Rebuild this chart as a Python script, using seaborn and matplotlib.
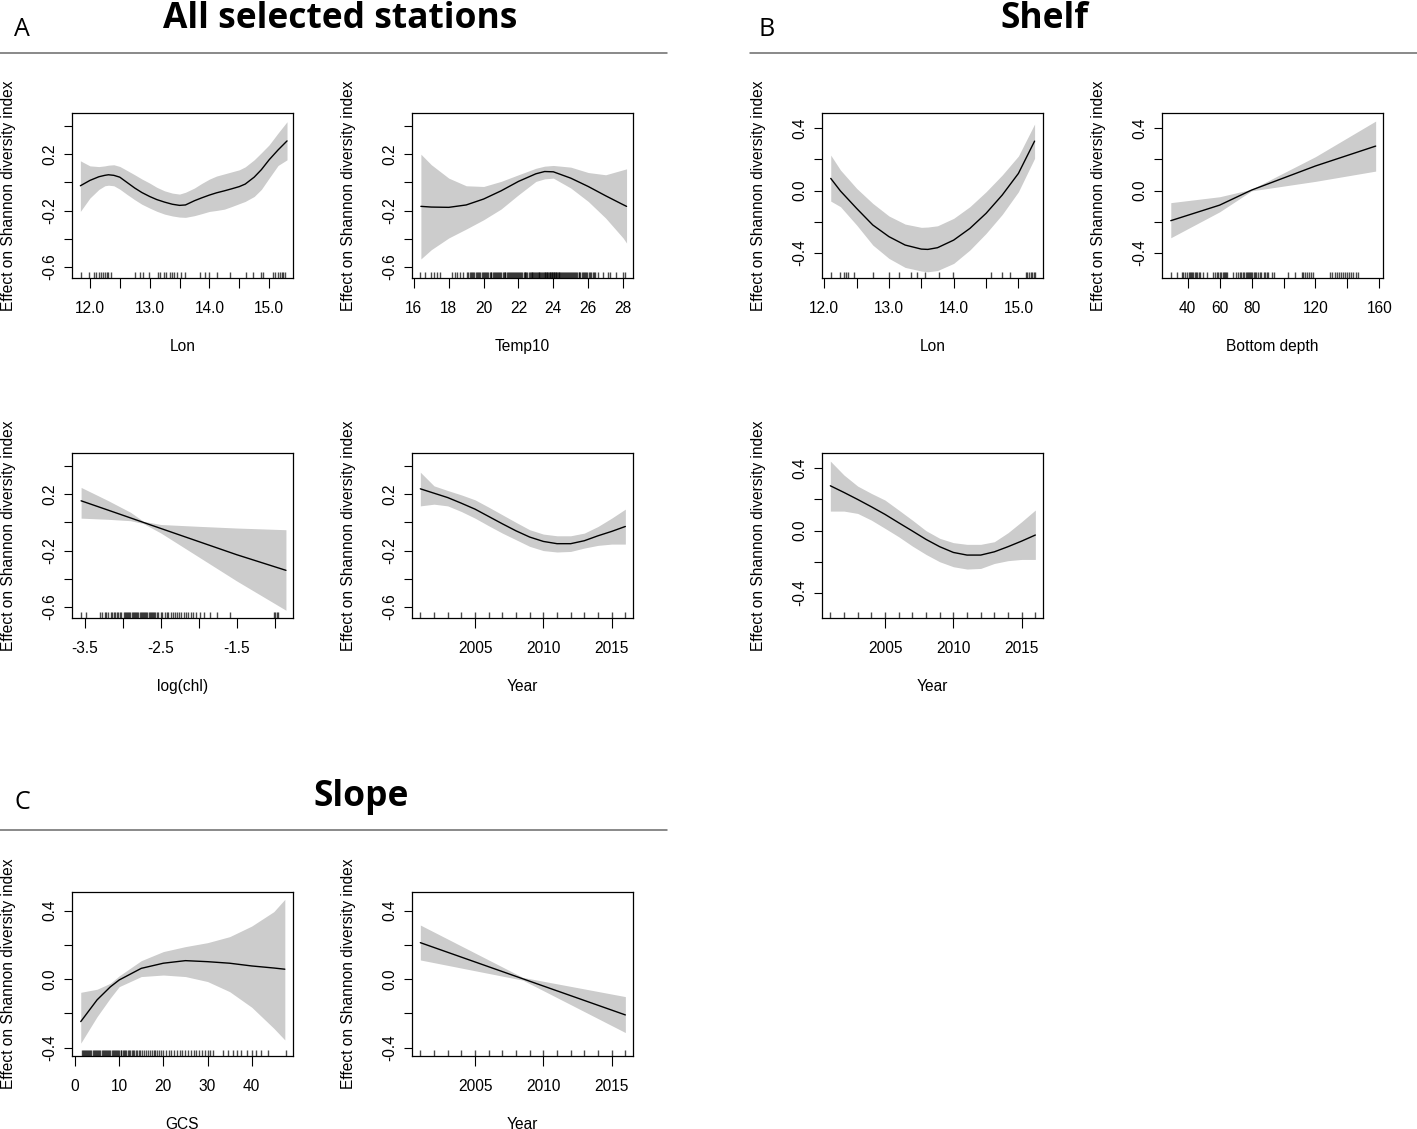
import numpy as np
import pandas as pd
import matplotlib
matplotlib.use("Agg")
import matplotlib.pyplot as plt
from matplotlib.lines import Line2D
import seaborn as sns

# ---------------- data ----------------
ylab = "Effect on Shannon diversity index"

# A: All selected stations -- Lon
all_lon_x = [11.84, 12.0, 12.15, 12.25, 12.31, 12.4, 12.5, 12.62, 12.75, 12.87, 13.0, 13.12, 13.25, 13.38, 13.5, 13.6, 13.75, 13.87, 14.0, 14.12, 14.25, 14.37, 14.5, 14.6, 14.75, 14.87, 15.0, 15.15, 15.3]
all_lon_fit = [-0.024, 0.014, 0.040, 0.050, 0.054, 0.050, 0.037, 0.000, -0.040, -0.072, -0.100, -0.122, -0.140, -0.155, -0.163, -0.160, -0.130, -0.110, -0.090, -0.074, -0.060, -0.046, -0.030, -0.012, 0.037, 0.090, 0.160, 0.230, 0.294]
all_lon_hi = [0.153, 0.117, 0.112, 0.117, 0.122, 0.125, 0.113, 0.085, 0.054, 0.024, -0.005, -0.035, -0.060, -0.076, -0.083, -0.070, -0.040, -0.008, 0.023, 0.045, 0.060, 0.074, 0.089, 0.110, 0.160, 0.210, 0.266, 0.350, 0.430]
all_lon_lo = [-0.206, -0.111, -0.050, -0.024, -0.020, -0.024, -0.048, -0.085, -0.123, -0.155, -0.182, -0.205, -0.225, -0.238, -0.246, -0.248, -0.236, -0.222, -0.206, -0.199, -0.190, -0.172, -0.151, -0.135, -0.100, -0.050, 0.030, 0.120, 0.160]
all_lon_rug = [11.85, 11.99, 12.07, 12.11, 12.16, 12.19, 12.22, 12.25, 12.28, 12.31, 12.36, 12.75, 12.84, 12.89, 12.99, 13.14, 13.17, 13.24, 13.28, 13.34, 13.37, 13.41, 13.45, 13.53, 13.59, 13.84, 13.93, 14.0, 14.13, 14.34, 14.61, 14.73, 14.87, 14.9, 15.06, 15.1, 15.15, 15.18, 15.21, 15.23, 15.27]

# A: Temp10
temp_x = [16.4, 17.0, 18.0, 19.0, 20.0, 21.0, 22.0, 23.0, 23.5, 24.0, 25.0, 26.0, 27.0, 28.0, 28.2]
temp_fit = [-0.170, -0.175, -0.177, -0.160, -0.118, -0.060, 0.007, 0.061, 0.077, 0.075, 0.030, -0.029, -0.095, -0.158, -0.170]
temp_hi = [0.200, 0.125, 0.030, -0.024, -0.029, 0.007, 0.054, 0.100, 0.115, 0.120, 0.108, 0.070, 0.054, 0.089, 0.096]
temp_lo = [-0.543, -0.477, -0.394, -0.331, -0.265, -0.189, -0.088, 0.007, 0.025, 0.030, -0.040, -0.135, -0.253, -0.394, -0.430]
temp_rug = [16.34, 16.63, 16.96, 17.15, 17.3, 17.5, 18.16, 18.35, 18.5, 18.64, 18.83, 19.02, 19.1, 19.2,
            19.25, 19.33, 19.4, 19.47, 19.55, 19.6, 19.68, 19.75, 19.8, 19.88, 19.95, 20.0, 20.08, 20.15, 20.2,
            20.27, 20.35, 20.4, 20.45, 20.52, 20.6, 20.65, 20.7, 20.78, 20.85, 20.9, 20.95, 21.02, 21.1, 21.15,
            21.2, 21.25, 21.32, 21.4, 21.45, 21.5, 21.55, 21.62, 21.7, 21.75, 21.8, 21.85, 21.92, 22.0, 22.05,
            22.1, 22.15, 22.22, 22.3, 22.35, 22.4, 22.45, 22.5, 22.58, 22.65, 22.7, 22.75, 22.8, 22.85, 22.9,
            22.95, 23.0, 23.05, 23.1, 23.15, 23.2, 23.25, 23.3, 23.35, 23.4, 23.45, 23.5, 23.54, 23.58, 23.62,
            23.66, 23.7, 23.74, 23.78, 23.82, 23.86, 23.9, 23.94, 23.98, 24.02, 24.06, 24.1, 24.14, 24.18, 24.22,
            24.26, 24.3, 24.35, 24.4, 24.45, 24.5, 24.55, 24.6, 24.66, 24.72, 24.8, 24.85, 24.9, 24.95, 25.0,
            25.05, 25.12, 25.2, 25.25, 25.3, 25.38, 25.45, 25.5, 25.55, 25.62, 25.7, 25.75, 25.82, 25.9, 25.95,
            26.02, 26.1, 26.18, 26.25, 26.32, 26.4, 26.57, 26.86, 27.15, 27.25, 27.6, 28.0, 28.1]

# A: log(chl)
chl_x = [-3.55, -3.2, -2.9, -2.73, -2.5, -2.0, -1.5, -0.85]
chl_fit = [0.153, 0.088, 0.032, 0.000, -0.043, -0.136, -0.229, -0.340]
chl_hi = [0.248, 0.156, 0.072, 0.008, -0.015, -0.028, -0.040, -0.052]
chl_lo = [0.030, 0.022, 0.012, -0.008, -0.075, -0.245, -0.415, -0.623]
chl_rug = [-3.55, -3.49, -3.3, -3.27, -3.24, -3.22, -3.19, -3.16, -3.14, -3.12, -3.1, -3.08, -3.06, -3.04, -3.02,
           -2.99, -2.975, -2.96, -2.945, -2.93, -2.915, -2.9, -2.885, -2.87, -2.855, -2.84, -2.825, -2.81, -2.795,
           -2.78, -2.765, -2.75, -2.735, -2.72, -2.705, -2.69, -2.675, -2.66, -2.645, -2.63, -2.615, -2.6, -2.585,
           -2.57, -2.555, -2.53, -2.5, -2.48, -2.45, -2.42, -2.4, -2.37, -2.34, -2.31, -2.28, -2.26, -2.23, -2.2,
           -2.17, -2.14, -2.1, -2.07, -2.04, -1.98, -1.93, -1.85, -1.76, -1.59, -1.01, -0.99, -0.97, -0.95]

# Years (shared x)
years = [2001, 2002, 2003, 2004, 2005, 2006, 2007, 2008, 2009, 2010, 2011, 2012, 2013, 2014, 2015, 2016]

# A: Year
all_year_fit = [0.238, 0.207, 0.176, 0.136, 0.094, 0.042, -0.010, -0.060, -0.104, -0.135, -0.151, -0.151, -0.130, -0.095, -0.064, -0.029]
all_year_hi = [0.356, 0.259, 0.226, 0.195, 0.160, 0.108, 0.054, 0.000, -0.052, -0.083, -0.095, -0.095, -0.076, -0.029, 0.030, 0.094]
all_year_lo = [0.117, 0.129, 0.117, 0.077, 0.030, -0.024, -0.076, -0.123, -0.170, -0.200, -0.210, -0.206, -0.182, -0.163, -0.154, -0.154]

# B: Shelf -- Lon
shelf_lon_x = [12.1, 12.25, 12.5, 12.75, 13.0, 13.25, 13.5, 13.6, 13.75, 14.0, 14.25, 14.5, 14.75, 15.0, 15.25]
shelf_lon_fit = [0.078, -0.003, -0.115, -0.222, -0.297, -0.351, -0.377, -0.379, -0.368, -0.319, -0.244, -0.147, -0.029, 0.110, 0.318]
shelf_lon_hi = [0.228, 0.132, 0.014, -0.083, -0.164, -0.216, -0.237, -0.235, -0.227, -0.179, -0.104, -0.008, 0.100, 0.222, 0.428]
shelf_lon_lo = [-0.068, -0.104, -0.222, -0.351, -0.437, -0.495, -0.518, -0.523, -0.515, -0.469, -0.383, -0.276, -0.154, -0.008, 0.207]
shelf_lon_rug = [12.1, 12.24, 12.31, 12.34, 12.36, 12.46, 12.76, 13.0, 13.16, 13.34, 13.43, 13.56, 13.77, 13.99, 14.58, 14.74, 14.87, 15.11, 15.14, 15.16, 15.19, 15.21, 15.24, 15.26]

# B: Bottom depth
depth_x = [29.4, 60.0, 80.0, 120.0, 157.7]
depth_fit = [-0.194, -0.094, 0.003, 0.158, 0.286]
depth_hi = [-0.078, -0.040, 0.008, 0.218, 0.447]
depth_lo = [-0.304, -0.137, -0.002, 0.059, 0.125]
depth_rug = [29.6, 33.1, 36.2, 37.3, 38.3, 39.4, 40.5, 41.3, 42.0, 42.8, 43.5, 44.4, 45.2, 46.0, 46.9, 47.7, 49.8,
             51.9, 56.1, 57.2, 58.3, 59.0, 60.0, 61.0, 61.8, 62.5, 63.2, 63.8, 64.4, 68.6, 70.0, 71.2, 72.5,
             73.6, 74.8, 75.5, 76.2, 77.0, 77.6, 78.3, 79.0, 79.8, 80.5, 81.4, 82.2, 83.0, 84.0, 85.0, 86.2,
             87.5, 88.5, 89.5, 90.5, 92.6, 94.3, 103.0, 107.2, 111.4, 112.5, 113.6, 114.8, 116.0, 117.3, 118.7,
             129.1, 130.5, 132.0, 133.2, 134.5, 135.8, 137.0, 138.3, 139.5, 141.0, 142.3, 143.8, 145.2, 146.9]

# B: Year
shelf_year_fit = [0.288, 0.245, 0.200, 0.153, 0.104, 0.050, -0.003, -0.057, -0.104, -0.141, -0.158, -0.158, -0.137, -0.104, -0.068, -0.029]
shelf_year_hi = [0.447, 0.357, 0.286, 0.239, 0.196, 0.132, 0.067, -0.001, -0.050, -0.078, -0.089, -0.089, -0.072, -0.014, 0.057, 0.132]
shelf_year_lo = [0.125, 0.125, 0.110, 0.067, 0.014, -0.040, -0.100, -0.154, -0.201, -0.233, -0.248, -0.244, -0.212, -0.194, -0.186, -0.186]

# C: Slope -- GCS
gcs_x = [1.3, 5.0, 8.0, 10.0, 15.0, 20.0, 25.0, 30.0, 35.0, 40.0, 45.0, 47.5]
gcs_fit = [-0.248, -0.121, -0.045, -0.005, 0.063, 0.093, 0.108, 0.102, 0.093, 0.077, 0.065, 0.058]
gcs_hi = [-0.077, -0.059, -0.024, 0.019, 0.108, 0.161, 0.190, 0.213, 0.248, 0.310, 0.394, 0.466]
gcs_lo = [-0.374, -0.219, -0.110, -0.044, 0.015, 0.024, 0.015, -0.014, -0.073, -0.164, -0.287, -0.355]
gcs_rug = [1.5, 1.8, 2.0, 2.3, 2.5, 2.8, 3.0, 3.2, 3.5, 3.7, 4.0, 4.2, 4.5, 4.7, 5.0, 5.2, 5.5, 5.7, 6.0, 6.3, 6.5,
           6.8, 7.0, 7.3, 7.5, 7.8, 8.0, 8.3, 8.5, 8.8, 9.0, 9.3, 9.5, 9.8, 10.0, 10.3, 10.5, 10.8, 11.0, 11.3,
           11.6, 11.9, 12.2, 12.5, 12.8, 13.1, 13.4, 13.7, 14.0, 14.4, 14.8, 15.2, 15.6, 16.0, 16.5, 17.0, 17.4,
           17.8, 18.2, 18.6, 19.0, 19.5, 20.0, 20.6, 21.2, 21.8, 22.5, 23.0, 23.7, 24.3, 25.0, 25.6, 26.2, 26.9,
           27.5, 28.1, 28.8, 29.4, 30.0, 30.6, 31.3, 33.4, 34.7, 35.8, 36.7, 37.5, 38.9, 40.1, 41.0, 42.0, 43.8, 47.7]

# C: Year
slope_year_x = [2001, 2008.5, 2016]
slope_year_fit = [0.213, 0.002, -0.209]
slope_year_hi = [0.316, 0.010, -0.102]
slope_year_lo = [0.112, -0.006, -0.312]

# ---------------- figure ----------------
sns.set_theme(style="white")
plt.rcParams["font.family"] = ["Liberation Sans", "DejaVu Sans"]

W, H = 1417, 1129
fig = plt.figure(figsize=(W / 100, H / 100), dpi=100)


def add_ax(x0, y0, x1, y1):
    return fig.add_axes([x0 / W, 1 - y1 / H, (x1 - x0) / W, (y1 - y0) / H])


def panel(box, x, fit, lo, hi, rug, xlim, ylim, xticks, xlabels, yticks, ylabels, xlabel):
    ax = add_ax(*box)
    ax.fill_between(x, lo, hi, color="#cccccc", lw=0)
    df = pd.DataFrame({"x": x, "fit": fit})
    sns.lineplot(data=df, x="x", y="fit", ax=ax, color="black", lw=1.0, sort=False)
    sns.rugplot(x=rug, ax=ax, height=0.035, color="black", lw=0.5, alpha=0.7)
    ax.set_xlim(*xlim)
    ax.set_ylim(*ylim)
    ax.set_xticks(xticks)
    ax.set_xticklabels(xlabels)
    ax.set_yticks(yticks)
    ax.set_yticklabels(ylabels, rotation=90, va="center")
    ax.tick_params(axis="x", bottom=True, direction="out", length=7.5, width=0.8,
                   color="black", labelsize=11.2, pad=9, labelcolor="black")
    ax.tick_params(axis="y", left=True, direction="out", length=5.8, width=0.8,
                   color="black", labelsize=11.2, pad=5, labelcolor="black")
    for s in ax.spines.values():
        s.set_color("black")
        s.set_linewidth(0.9)
    ax.set_xlabel(xlabel, fontsize=11.2, color="black")
    ax.set_ylabel(ylab, fontsize=11.2, color="black")
    ax.xaxis.set_label_coords(0.5, -0.37)
    ax.yaxis.set_label_coords(-0.255, 0.5)
    return ax


A_ylim = (-0.678, 0.492)
A_yt = [-0.6, -0.4, -0.2, 0.0, 0.2, 0.4]
A_yl = ["-0.6", "", "-0.2", "", "0.2", ""]
BC_yt = [-0.4, -0.2, 0.0, 0.2, 0.4]
BC_yl = ["-0.4", "", "0.0", "", "0.4"]
lon_t = [12.0, 12.5, 13.0, 13.5, 14.0, 14.5, 15.0]
lon_l = ["12.0", "", "13.0", "", "14.0", "", "15.0"]
yr_t = [2005, 2010, 2015]
yr_l = ["2005", "2010", "2015"]

# Row A
panel((72, 113, 293, 278), all_lon_x, all_lon_fit, all_lon_lo, all_lon_hi, all_lon_rug,
      (11.70, 15.40), A_ylim, lon_t, lon_l, A_yt, A_yl, "Lon")
panel((412, 113, 633, 278), temp_x, temp_fit, temp_lo, temp_hi, temp_rug,
      (15.89, 28.57), A_ylim, [16, 18, 20, 22, 24, 26, 28],
      ["16", "18", "20", "22", "24", "26", "28"], A_yt, A_yl, "Temp10")
panel((72, 453, 293, 618), chl_x, chl_fit, chl_lo, chl_hi, chl_rug,
      (-3.67, -0.757), A_ylim, [-3.5, -3.0, -2.5, -2.0, -1.5, -1.0],
      ["-3.5", "", "-2.5", "", "-1.5", ""], A_yt, A_yl, "log(chl)")
panel((412, 453, 633, 618), years, all_year_fit, all_year_lo, all_year_hi, years,
      (2000.39, 2016.56), A_ylim, yr_t, yr_l, A_yt, A_yl, "Year")

# Shelf
B_ylim = (-0.563, 0.499)
panel((822, 113, 1043, 278), shelf_lon_x, shelf_lon_fit, shelf_lon_lo, shelf_lon_hi, shelf_lon_rug,
      (11.965, 15.38), B_ylim, lon_t, lon_l, BC_yt, BC_yl, "Lon")
panel((1162, 113, 1383, 278), depth_x, depth_fit, depth_lo, depth_hi, depth_rug,
      (23.9, 162.3), B_ylim, [40, 60, 80, 100, 120, 140, 160],
      ["40", "60", "80", "", "120", "", "160"], BC_yt, BC_yl, "Bottom depth")
panel((822, 453, 1043, 618), years, shelf_year_fit, shelf_year_lo, shelf_year_hi, years,
      (2000.39, 2016.56), B_ylim, yr_t, yr_l, BC_yt, BC_yl, "Year")

# Slope
C_ylim = (-0.449, 0.509)
panel((72, 892, 293, 1056), gcs_x, gcs_fit, gcs_lo, gcs_hi, gcs_rug,
      (-0.68, 49.35), C_ylim, [0, 10, 20, 30, 40], ["0", "10", "20", "30", "40"],
      BC_yt, BC_yl, "GCS")
panel((412, 892, 633, 1056), slope_year_x, slope_year_fit, slope_year_lo, slope_year_hi, years,
      (2000.39, 2016.56), C_ylim, yr_t, yr_l, BC_yt, BC_yl, "Year")

# ---------------- headers ----------------
def fx(px):
    return px / W


def fy(py):
    return 1 - py / H


letter_font = ["Open Sans", "Lato", "DejaVu Sans"]
title_font = ["Open Sans", "Lato", "DejaVu Sans"]
for letter, lx, ly in [("A", 22, 36), ("B", 767, 36), ("C", 22, 809)]:
    fig.text(fx(lx), fy(ly), letter, ha="center", va="baseline", fontsize=18,
             family=letter_font, color="black")
for title, tx, ty in [("All selected stations", 340, 28), ("Shelf", 1044, 28), ("Slope", 361, 806)]:
    fig.text(fx(tx), fy(ty), title, ha="center", va="baseline", fontsize=25.5,
             fontweight="bold", family=title_font, color="black")
for x0, x1, yy in [(0, 667, 53), (750, 1417, 53), (0, 667, 830)]:
    fig.add_artist(Line2D([fx(x0), fx(x1)], [fy(yy), fy(yy)], color="#6a6a6a", lw=1.1))

fig.savefig("out.png", dpi=100, facecolor="white")
